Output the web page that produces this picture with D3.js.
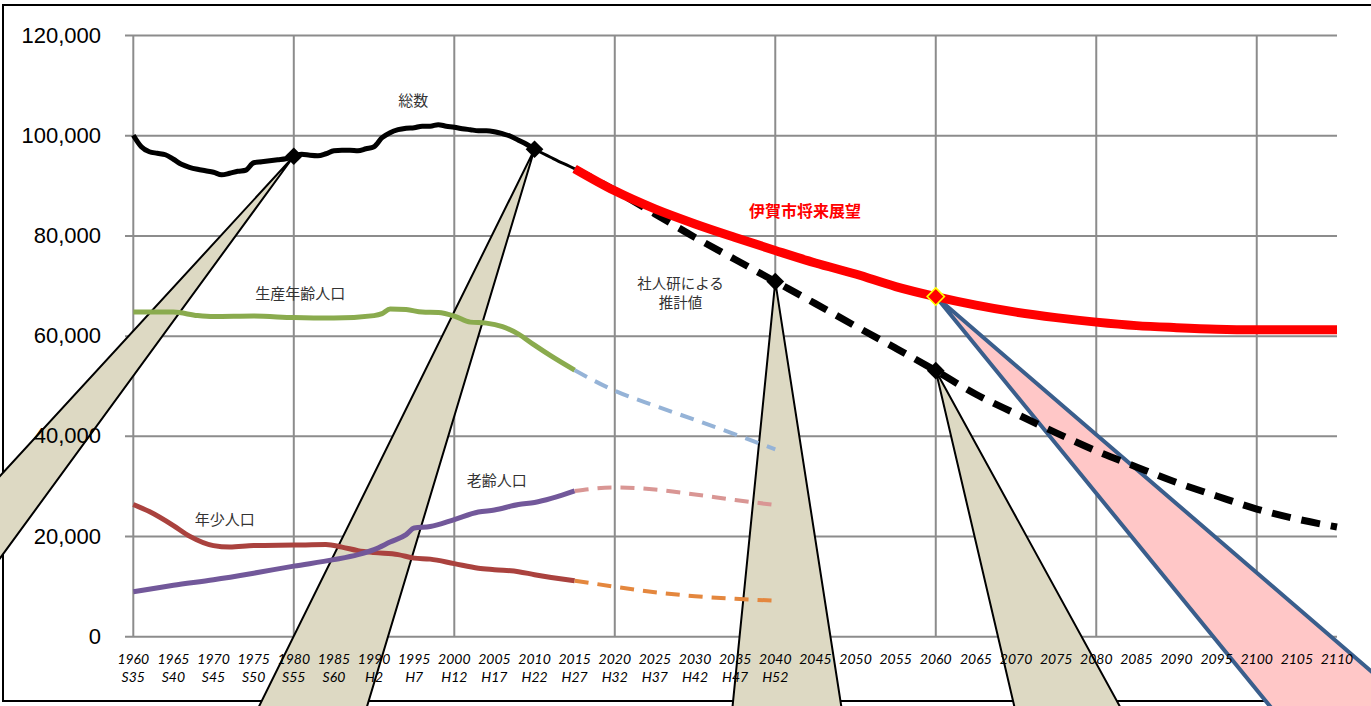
<!DOCTYPE html>
<html lang="ja">
<head>
<meta charset="UTF-8">
<script src="https://d3js.org/d3.v7.min.js"></script>
<style>
  body { margin: 0; background: #fff; }
  svg { display: block; font-family: Lato, "Noto Sans CJK JP", sans-serif; }
  .ylab { font-size: 22px; fill: #000; }
  .xlab { font-size: 14px; font-style: italic; fill: #000; }
  .note { font-size: 15px; font-family: "Noto Sans CJK JP", sans-serif; }
</style>
</head>
<body>
<svg id="chart"></svg>
<script>
// ---- data ----
// 総数 実績 (annual 1960-2015)
const totalYears = d3.range(1960, 2016);
const totalActual = [
  100000, 97700, 96700, 96400, 96100, 95200, 94200, 93600, 93200, 92900,
  92600, 92100, 92400, 92800, 93000, 94500, 94700, 94900, 95100, 95300,
  95800, 96200, 96000, 95900, 96300, 96900, 97000, 97000, 96900, 97300,
  97700, 99500, 100500, 101100, 101400, 101500, 101800, 101800, 102100, 101800,
  101600, 101300, 101100, 100900, 100900, 100700, 100300, 99800, 99000, 98200,
  97200, 96400, 95600, 94800, 94100, 93300
];

// 社人研による推計値 (5-year, 2015-2110)
const projYears = d3.range(2015, 2111, 5);
const totalIpss = [
  93300, 89000, 84300, 79600, 75200, 70800, 66400, 61900, 57500, 53000,
  48300, 44400, 40600, 37000, 33800, 30700, 28000, 25400, 23400, 21800
];
// 伊賀市将来展望
const totalIga = [
  93300, 88900, 85300, 82300, 79600, 77000, 74500, 72300, 69800, 67800,
  66100, 64700, 63600, 62700, 62000, 61600, 61300, 61200, 61200, 61200
];

// 年齢3区分 実績
const workYears = [1960, 1965, 1968, 1970, 1975, 1980, 1985, 1990, 1991, 1992, 1994, 1996, 1998, 2000, 2002, 2004, 2006, 2008, 2010, 2012, 2015];
const workActual = [64700, 64700, 64000, 63800, 63900, 63600, 63500, 64000, 64400, 65300, 65200, 64700, 64600, 63900, 62700, 62500, 61800, 60300, 58100, 56000, 53100];

const youngYears = [1960, 1962, 1965, 1967, 1970, 1972, 1975, 1980, 1984, 1986, 1988, 1990, 1993, 1995, 1997, 2000, 2003, 2005, 2008, 2010, 2015];
const youngActual = [26300, 24900, 22100, 20000, 18100, 17800, 18100, 18200, 18300, 17800, 17100, 16700, 16300, 15600, 15400, 14500, 13600, 13300, 12900, 12300, 11100];

const oldYears = [1960, 1965, 1970, 1975, 1980, 1985, 1988, 1990, 1992, 1994, 1995, 1997, 2000, 2003, 2005, 2008, 2010, 2015];
const oldActual = [8900, 10200, 11300, 12600, 14000, 15300, 16300, 17300, 18800, 20300, 21600, 21900, 23300, 24800, 25200, 26300, 26700, 29000];

// 年齢3区分 推計 (2015-2040)
const ageProjYears = [2015, 2020, 2025, 2030, 2035, 2040];
const workProj = [53100, 49000, 46000, 43200, 40300, 37300];
const youngProj = [11100, 9900, 8800, 8000, 7500, 7100];
const oldProj = [29000, 29700, 29300, 28300, 27200, 26200];

// markers
const blackMarkers = [[1980, 95800], [2010, 97200], [2040, 70800], [2060, 53000]];
const igaMarker = [2060, 67800];

// callout wedges: apex and two far base points (year, value)
const wedgeApex = [[1980, 95800], [2010, 97200], [2040, 70800], [2060, 53000], [2060, 67800]];
const wedgeBase = [
  [[1937.2, 21200], [1937.2, 2000]],
  [[1974.8, -16800], [1988.6, -16800]],
  [[2034.5, -16800], [2048.5, -16800]],
  [[2070.2, -16800], [2083.9, -16800]],
  [[2103.1, -16800], [2121.4, -16800]]
];

// axis tick labels
const yTicks = [0, 20000, 40000, 60000, 80000, 100000, 120000];
const yearLabels = ["1960","1965","1970","1975","1980","1985","1990","1995","2000","2005","2010","2015",
  "2020","2025","2030","2035","2040","2045","2050","2055","2060","2065","2070","2075","2080","2085",
  "2090","2095","2100","2105","2110"];
const eraLabels = ["S35","S40","S45","S50","S55","S60","H2","H7","H12","H17","H22","H27","H32","H37","H42","H47","H52"];
const gridYears = [1960, 1980, 2000, 2020, 2040, 2060, 2080, 2100];

// ---- drawing ----
const W = 1371, H = 706;
const svg = d3.select("#chart").attr("width", W).attr("height", H);

const x = d3.scaleLinear().domain([1960, 2110]).range([133.3, 1337]);
const y = d3.scaleLinear().domain([0, 120000]).range([636.3, 35]);

// outer frame
svg.append("rect")
  .attr("x", 3).attr("y", 5).attr("width", W + 10).attr("height", 696)
  .attr("fill", "#fff").attr("stroke", "#000").attr("stroke-width", 2);

// horizontal gridlines
const yGrid = svg.append("g")
  .attr("transform", "translate(125,0)")
  .call(d3.axisLeft(y).tickValues(yTicks).tickSize(-(1337 - 125)).tickFormat(""));
yGrid.select(".domain").remove();
yGrid.selectAll("line").attr("stroke", "#8c8c8c").attr("stroke-width", 2);

// vertical gridlines
svg.append("g").selectAll("line")
  .data(gridYears)
  .join("line")
  .attr("x1", d => x(d)).attr("x2", d => x(d))
  .attr("y1", y(120000)).attr("y2", y(0))
  .attr("stroke", "#8c8c8c").attr("stroke-width", 2);

// wedges
const wedgeFill = ["#ddd9c3", "#ddd9c3", "#ddd9c3", "#ddd9c3", "#ffc7c7"];
const wedgeStroke = ["#000", "#000", "#000", "#000", "#3a5e8c"];
const wedgeWidth = [2, 2, 2, 2, 4];
svg.append("g").selectAll("path")
  .data(wedgeApex.map((a, i) => [a, wedgeBase[i][0], wedgeBase[i][1]]))
  .join("path")
  .attr("d", d => "M" + d.map(p => [x(p[0]), y(p[1])]).join("L") + "Z")
  .attr("fill", (d, i) => wedgeFill[i])
  .attr("stroke", (d, i) => wedgeStroke[i])
  .attr("stroke-width", (d, i) => wedgeWidth[i])
  .attr("stroke-linejoin", "round");

// y labels (on top of the wedges)
const yAxis = svg.append("g")
  .attr("transform", "translate(125,0)")
  .call(d3.axisLeft(y).tickValues(yTicks).tickSize(0).tickPadding(24)
    .tickFormat(d3.format(",")));
yAxis.select(".domain").remove();
yAxis.selectAll("text").attr("class", "ylab").attr("font-size", null).attr("font-family", null);

// x labels
const xl = svg.append("g");
xl.selectAll("text.yr")
  .data(yearLabels)
  .join("text")
  .attr("class", "xlab yr")
  .attr("x", d => x(+d)).attr("y", 664)
  .attr("text-anchor", "middle")
  .text(d => d);
xl.selectAll("text.era")
  .data(eraLabels)
  .join("text")
  .attr("class", "xlab era")
  .attr("x", (d, i) => x(+yearLabels[i])).attr("y", 682)
  .attr("text-anchor", "middle")
  .text(d => d);

// lines
function drawLine(years, values, color, width, dash) {
  const line = d3.line()
    .x((d, i) => x(years[i]))
    .y(d => y(d))
    .curve(d3.curveMonotoneX);
  svg.append("path")
    .datum(values)
    .attr("d", line)
    .attr("fill", "none")
    .attr("stroke", color)
    .attr("stroke-width", width)
    .attr("stroke-dasharray", dash || null)
    .attr("stroke-linejoin", "round");
}

drawLine(workYears, workActual, "#8aab4e", 5);
drawLine(ageProjYears, workProj, "#95b3d7", 4, "14,9");
drawLine(youngYears, youngActual, "#aa423e", 5);
drawLine(ageProjYears, youngProj, "#e4873e", 4, "14,9");
drawLine(oldYears, oldActual, "#72589a", 5);
drawLine(ageProjYears, oldProj, "#d99694", 4, "14,9");

drawLine(totalYears.slice(0, 51), totalActual.slice(0, 51), "#000", 5);
drawLine(totalYears.slice(50), totalActual.slice(50), "#000", 3);
drawLine(projYears, totalIpss, "#000", 7, "19,11");
drawLine(projYears, totalIga, "#ff0000", 9);

// markers
const diamond = d3.symbol().type(d3.symbolDiamond2).size(200);
svg.append("g").selectAll("path")
  .data(blackMarkers)
  .join("path")
  .attr("transform", d => `translate(${x(d[0])},${y(d[1])})`)
  .attr("d", diamond)
  .attr("fill", "#000");
svg.append("path")
  .attr("transform", `translate(${x(igaMarker[0])},${y(igaMarker[1])})`)
  .attr("d", d3.symbol().type(d3.symbolDiamond2).size(190))
  .attr("fill", "#ff0000")
  .attr("stroke", "#ffff00")
  .attr("stroke-width", 1.6);

// annotations
function note(txt, yr, val, size, color, weight) {
  svg.append("text")
    .attr("class", "note")
    .attr("x", x(yr)).attr("y", y(val))
    .attr("text-anchor", "middle")
    .attr("dominant-baseline", "central")
    .style("fill", color || "#333")
    .style("font-weight", weight || null)
    .style("font-size", size || null)
    .text(txt);
}
note("総数", 1994.9, 107200);
note("伊賀市将来展望", 2043.7, 85100, "16px", "#ff0000", "bold");
note("社人研による", 2028.2, 70700, "14.5px");
note("推計値", 2028.2, 66900, "14.5px");
note("生産年齢人口", 1980.8, 68700);
note("老齢人口", 2005.3, 31200);
note("年少人口", 1971.4, 23600);
</script>
</body>
</html>
